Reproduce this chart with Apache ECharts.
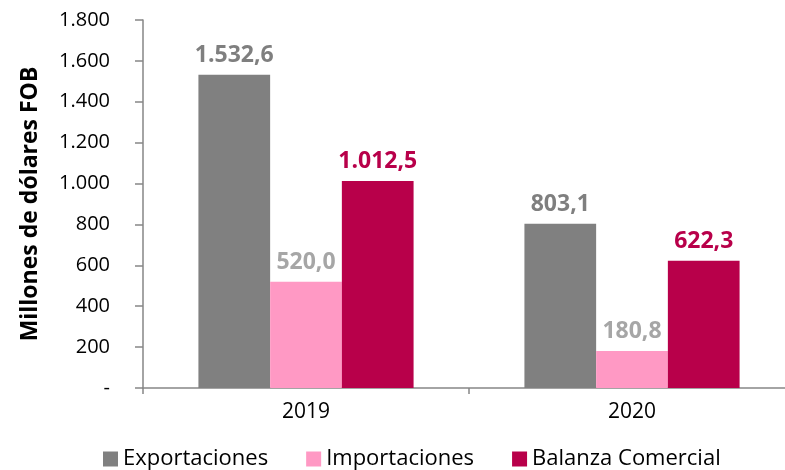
<!DOCTYPE html>
<html lang="es">
<head>
    <meta charset="UTF-8">
    <title>Balanza comercial</title>
    <script src="https://cdn.jsdelivr.net/npm/echarts@6.0.0/dist/echarts.min.js"></script>
    <style>
        html, body { margin: 0; padding: 0; background: #fff; }
        #chart { width: 785px; height: 470px; }
    </style>
</head>
<body>
    <div id="chart"></div>
    <script>
        // datos (millones de dólares FOB)
        var years = ['2019', '2020'];
        var exportaciones = [1532.6, 803.1];
        var importaciones = [520.0, 180.8];
        var balanza = [1012.5, 622.3];
        var yTicks = { min: 0, max: 1800, interval: 200 };

        var FONT = '"Open Sans", "Noto Sans", sans-serif';

        // formato 1.532,6
        function fmt(v, dec) {
            var s = v.toFixed(dec);
            var parts = s.split('.');
            var ent = parts[0].replace(/\B(?=(\d{3})+(?!\d))/g, '.');
            return parts.length > 1 ? ent + ',' + parts[1] : ent;
        }

        function barSerie(name, data, color, labelColor) {
            return {
                name: name,
                type: 'bar',
                data: data,
                barGap: '0%',
                barCategoryGap: '34%',
                itemStyle: { color: color },
                label: {
                    show: true,
                    position: 'top',
                    distance: 8,
                    color: labelColor,
                    fontFamily: FONT,
                    fontWeight: 'bold',
                    fontSize: 23,
                    formatter: function (p) { return fmt(p.value, 1); }
                }
            };
        }

        var myChart = echarts.init(document.getElementById('chart'));
        myChart.setOption({
            animation: false,
            textStyle: { fontFamily: FONT },
            // el eje sigue un poco más allá del borde derecho
            grid: { left: 143, width: 652, top: 20, bottom: 82, outerBoundsMode: 'none' },
            legend: {
                bottom: -5,
                left: 98,
                itemWidth: 15,
                itemHeight: 15,
                itemGap: 38,
                icon: 'rect',
                textStyle: { fontSize: 22, color: '#000', fontFamily: FONT },
                data: ['Exportaciones', 'Importaciones', 'Balanza Comercial']
            },
            xAxis: {
                type: 'category',
                data: years,
                axisLine: { lineStyle: { color: '#868686', width: 1.5 } },
                axisTick: { show: true, length: 6, lineStyle: { color: '#868686', width: 1.5 } },
                axisLabel: { fontSize: 21, color: '#000', margin: 14, fontFamily: FONT }
            },
            yAxis: {
                type: 'value',
                min: yTicks.min,
                max: yTicks.max,
                interval: yTicks.interval,
                name: 'Millones de dólares FOB',
                nameLocation: 'middle',
                nameGap: 101,
                nameTextStyle: { fontSize: 23, fontWeight: 'bold', color: '#000', fontFamily: FONT },
                axisLine: { show: true, lineStyle: { color: '#868686', width: 1.5 } },
                axisTick: { show: true, length: 8, lineStyle: { color: '#868686', width: 1.5 } },
                splitLine: { show: false },
                axisLabel: {
                    fontSize: 20,
                    color: '#000',
                    margin: 33,
                    fontFamily: FONT,
                    formatter: function (v) { return v === 0 ? '-' : fmt(v, 0); }
                }
            },
            series: [
                barSerie('Exportaciones', exportaciones, '#808080', '#7f7f7f'),
                barSerie('Importaciones', importaciones, '#ff99c4', '#a6a6a6'),
                barSerie('Balanza Comercial', balanza, '#b8004a', '#b8004a')
            ]
        });
    </script>
</body>
</html>
